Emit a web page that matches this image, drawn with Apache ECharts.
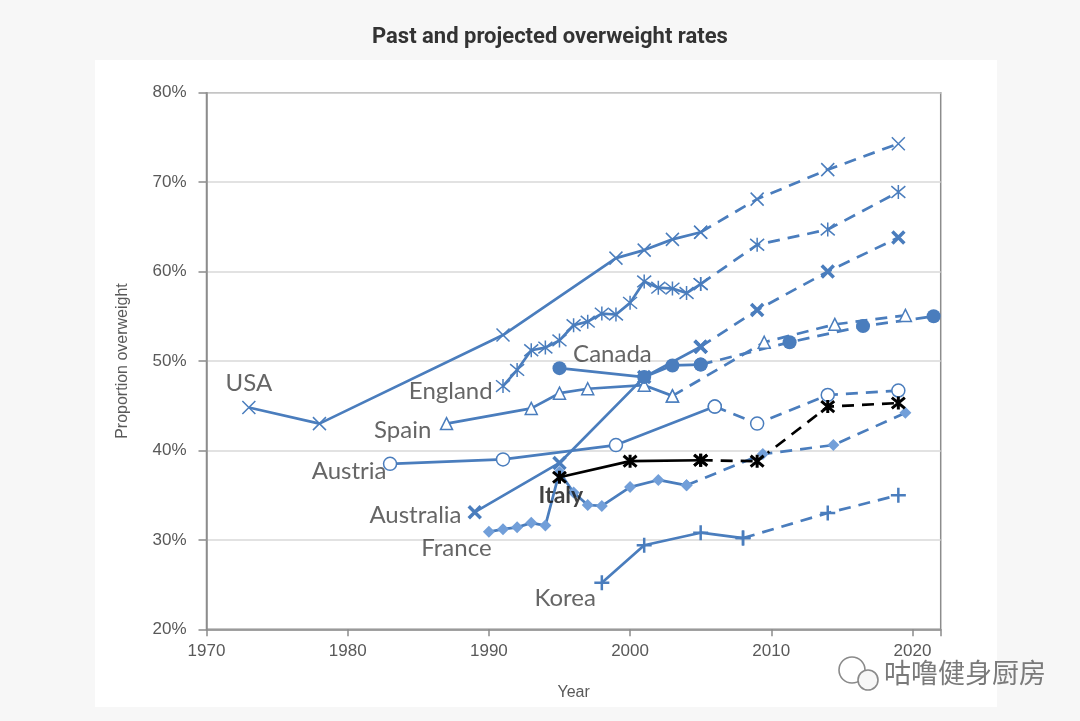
<!DOCTYPE html>
<html>
<head>
<meta charset="utf-8">
<script src="https://cdn.jsdelivr.net/npm/echarts@6/dist/echarts.min.js"></script>
<style>
html,body{margin:0;padding:0;background:#f7f7f7;}
#wrap{position:relative;width:1080px;height:721px;background:#f7f7f7;}
#panel{position:absolute;left:95px;top:60px;width:902px;height:647px;background:#ffffff;}
#chart{position:absolute;left:0;top:0;width:1080px;height:721px;}
</style>
</head>
<body>
<div id="wrap"><div id="panel"></div><div id="chart"></div></div>
<script>
// ---- data (year, % overweight) ----
const usaPast = [[1973,44.8],[1978,43.0],[1991,52.9],[1999,61.5],[2001,62.4],[2003,63.6],[2005,64.4]];
const usaProj = [[2009,68.1],[2014,71.4],[2019,74.3]];
const englandPast = [[1991,47.2],[1992,49.0],[1993,51.2],[1994,51.5],[1995,52.3],[1996,54.0],[1997,54.4],[1998,55.3],[1999,55.2],[2000,56.5],[2001,58.9],[2002,58.2],[2003,58.1],[2004,57.6],[2005,58.6]];
const englandProj = [[2009,63.0],[2014,64.7],[2019,68.9]];
const australiaPast = [[1989,33.1],[1995,38.6],[2001,48.2],[2005,51.6]];
const australiaProj = [[2009,55.7],[2014,60.0],[2019,63.8]];
const spainPast = [[1987,43.0],[1993,44.7],[1995,46.4],[1997,46.9],[2001,47.3],[2003,46.1]];
const spainProj = [[2009.5,52.1],[2014.5,54.1],[2019.5,55.1]];
const canadaPast = [[1995,49.2],[2001,48.2],[2003,49.5],[2005,49.6]];
const canadaProj = [[2011.3,52.1],[2016.5,53.9],[2021.5,55.0]];
const austriaPast = [[1983,38.5],[1991,39.0],[1999,40.6],[2006,44.9]];
const austriaProj = [[2009,43.0],[2014,46.2],[2019,46.7]];
const italyPast = [[1995,37.0],[2000,38.8],[2005,38.9]];
const italyProj = [[2009,38.8],[2014,44.9],[2019,45.3]];
const francePast = [[1990,30.9],[1991,31.2],[1992,31.4],[1993,31.9],[1994,31.6],[1995,37.6],[1996,35.3],[1997,33.9],[1998,33.8],[2000,35.9],[2002,36.7],[2004,36.1]];
const franceProj = [[2009.4,39.6],[2014.4,40.6],[2019.5,44.2]];
const koreaPast = [[1998,25.2],[2001,29.4],[2005,30.8],[2008,30.2]];
const koreaProj = [[2014,33.0],[2019,35.0]];

const countryNames = ['USA','England','Canada','Spain','Austria','Australia','Italy','France','Korea'];
// label anchors in data coordinates (year, %)
const labelAnchors = [[1973.0,47.5],[1987.3,46.6],[1998.75,50.8],[1983.9,42.2],[1980.1,37.7],[1984.8,32.7],[1995.1,34.9],[1987.7,29.1],[1995.4,23.5]];

const yTicks = [20,30,40,50,60,70,80];
const xTicks = [1970,1980,1990,2000,2010,2020];

// ---- styles ----
const BLUE = '#4a7dbd';
const LIGHT = '#729fd9';
const X_PATH = 'path://M0 0L10 10M10 0L0 10';
const AST_PATH = 'path://M0 0L10 10M10 0L0 10M5 -1L5 11';
const PLUS_PATH = 'path://M5 0L5 10M0 5L10 5';

function pair(name, past, proj, color, symbol, size, itemStyle, width){
  const common = {type:'line', symbol:symbol, symbolSize:size, itemStyle:itemStyle, z:3, silent:true, animation:false};
  return [
    Object.assign({}, common, {name:name, data:past, showSymbol:true, lineStyle:{color:color, width:width||2.7, type:'solid'}}),
    Object.assign({}, common, {name:name+' proj', data:[past[past.length-1]].concat(proj), lineStyle:{color:color, width:width||2.7, type:[12,8]}})
  ];
}

const series = [].concat(
  pair('USA', usaPast, usaProj, BLUE, X_PATH, 13, {color:BLUE, borderColor:BLUE, borderWidth:1.5}),
  pair('England', englandPast, englandProj, BLUE, AST_PATH, 14, {color:BLUE, borderColor:BLUE, borderWidth:1.5}),
  pair('Spain', spainPast, spainProj, BLUE, 'triangle', 12, {color:'#ffffff', borderColor:BLUE, borderWidth:1.5}),
  pair('Austria', austriaPast, austriaProj, BLUE, 'circle', 13, {color:'#ffffff', borderColor:BLUE, borderWidth:1.5}),
  pair('France', francePast, franceProj, BLUE, 'diamond', 12, {color:LIGHT, borderColor:LIGHT, borderWidth:0}),
  pair('Korea', koreaPast, koreaProj, BLUE, PLUS_PATH, 15, {color:BLUE, borderColor:BLUE, borderWidth:2.5}),
  pair('Australia', australiaPast, australiaProj, BLUE, X_PATH, 12, {color:BLUE, borderColor:BLUE, borderWidth:3.5}),
  pair('Canada', canadaPast, canadaProj, BLUE, 'circle', 14, {color:BLUE, borderColor:BLUE, borderWidth:0}),
  pair('Italy', italyPast, italyProj, '#000000', AST_PATH, 13, {color:'#000', borderColor:'#000', borderWidth:3}, 2.7)
);

series.push({
  type:'scatter', name:'labels', symbolSize:0, z:5, silent:true, animation:false,
  data: countryNames.map((n,i)=>({
    value: labelAnchors[i], name:n,
    label: n==='Italy'
      ? {show:true, position:'inside', formatter:'{b}', color:'#111', fontSize:23, fontWeight:'bold', fontFamily:'Lato'}
      : {show:true, position:'inside', formatter:'{b}', color:'#404040', fontSize:24, fontFamily:'Lato'}
  }))
});

const chart = echarts.init(document.getElementById('chart'), null, {renderer:'canvas'});
chart.setOption({
  backgroundColor:'transparent',
  animation:false,
  title:{text:'Past and projected overweight rates', left:367, top:21,
    textStyle:{fontFamily:'Roboto', fontSize:22, fontWeight:'bold', color:'#333333'}},
  grid:{left:206.5, right:139.3, top:92.7, bottom:91.7, show:true, borderColor:'#8c8c8c', borderWidth:1.5, backgroundColor:'#ffffff'},
  xAxis:{type:'value', min:1970, max:2022, interval:10,
    name:'Year', nameLocation:'middle', nameGap:55,
    nameTextStyle:{fontFamily:'Liberation Sans', fontSize:16, color:'#595959'},
    axisLine:{show:true, lineStyle:{color:'#8c8c8c', width:1.5}},
    axisTick:{show:true, inside:false, length:7, lineStyle:{color:'#8c8c8c', width:1.5}},
    axisLabel:{margin:14, fontFamily:'Liberation Sans', fontSize:17, color:'#595959',
      formatter:v=> xTicks.indexOf(v)>=0 ? String(v) : ''},
    splitLine:{show:false}},
  yAxis:{type:'value', min:20, max:80, interval:10,
    name:'Proportion overweight', nameLocation:'middle', nameGap:76,
    nameTextStyle:{fontFamily:'Liberation Sans', fontSize:16, color:'#595959'},
    axisLine:{show:true, lineStyle:{color:'#8c8c8c', width:1.5}},
    axisTick:{show:true, inside:false, length:8, lineStyle:{color:'#8c8c8c', width:1.5}},
    axisLabel:{margin:20, fontFamily:'Liberation Sans', fontSize:17, color:'#595959',
      formatter:v=> yTicks.indexOf(v)>=0 ? v+'%' : ''},
    splitLine:{show:true, lineStyle:{color:'#d9d9d9', width:1.5}}},
  graphic:[
    {type:'circle', shape:{cx:852, cy:670, r:13}, style:{fill:'none', stroke:'#8a8a8a', lineWidth:1.6}},
    {type:'circle', shape:{cx:868, cy:680, r:10}, style:{fill:'#f7f7f7', stroke:'#8a8a8a', lineWidth:1.6}},
    {type:'text', left:884, top:659, style:{text:'咕噜健身厨房', font:'27px "Noto Sans CJK SC"', fill:'#7a7a7a'}}
  ],
  series: series
});
</script>
</body>
</html>
